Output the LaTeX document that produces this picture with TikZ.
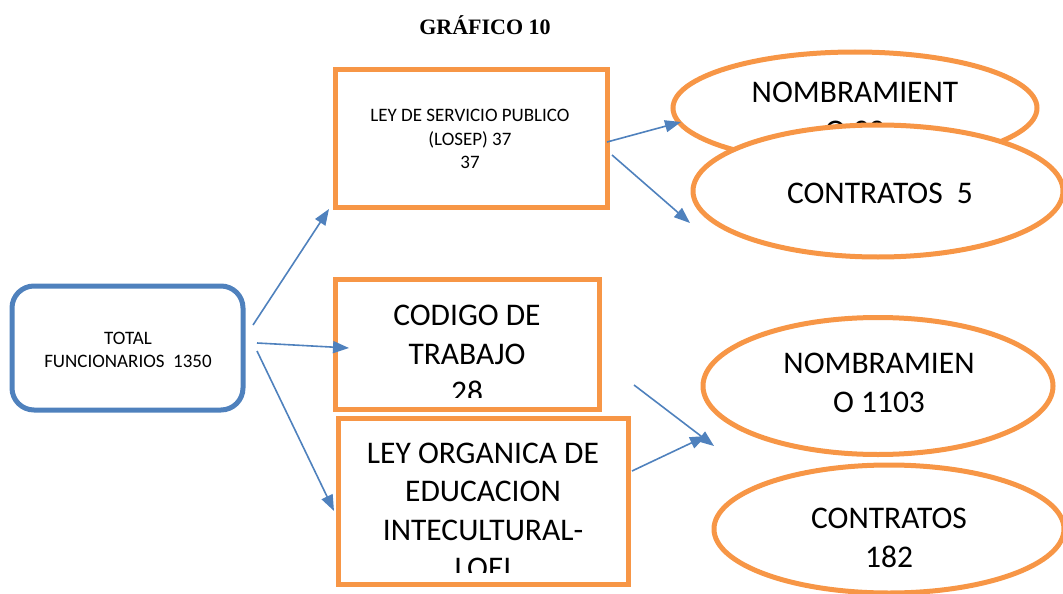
\documentclass[tikz,border=0pt]{standalone}
\usepackage{fontspec}
\setmainfont{Carlito}
\newfontfamily\titlefont{Liberation Serif}
\usetikzlibrary{arrows.meta,shapes.geometric}
\definecolor{obox}{HTML}{F79646}
\definecolor{bbox}{HTML}{4F81BD}
\tikzset{
  smalltxt/.style={font=\fontsize{19}{23.2}\selectfont, align=center},
  bigtxt/.style={font=\fontsize{31.5}{38.5}\selectfont, align=center},
  orect/.style={draw=obox, line width=5pt, fill=white},
  oell/.style={draw=obox, line width=5pt, fill=white, ellipse, inner sep=0pt},
  conn/.style={draw=bbox, line width=1.6pt, -{Triangle[length=16pt,width=12pt]}}
}
\begin{document}
\begin{tikzpicture}[x=1pt,y=-1pt]
\useasboundingbox (0,0) rectangle (1063,594);
% title
\node[font=\titlefont\bfseries\fontsize{22}{26}\selectfont] (title) at (485,25) {GRÁFICO 10};
% total
\draw[draw=bbox, line width=5pt, rounded corners=22pt] (12,286) rectangle (243,410);
\node[smalltxt] (total) at (128,350) {TOTAL\\FUNCIONARIOS\ \ 1350};
% LEY DE SERVICIO PUBLICO
\draw[orect] (335,70) rectangle (607,207);
\node[smalltxt] (losep) at (470,139) {LEY DE SERVICIO PUBLICO\\(LOSEP) 37\\37};
% CODIGO DE TRABAJO
\draw[orect] (335,279) rectangle (599,409);
\begin{scope}
\clip (338,282) rectangle (596,397);
\node[bigtxt] (codigo) at (467,354) {CODIGO DE\\TRABAJO\\28};
\end{scope}
% LOEI
\draw[orect] (338,418) rectangle (628,584);
\begin{scope}
\clip (341,421) rectangle (625,572);
\node[bigtxt] (loei) at (483,511) {LEY ORGANICA DE\\EDUCACION\\INTECULTURAL-\\LOEI};
\end{scope}
% ellipses
\node[oell, minimum width=364pt, minimum height=112pt] (e1) at (855,108) {};
\node[bigtxt] (e1t) at (855,112) {NOMBRAMIENT\\O 32};
\node[oell, minimum width=370pt, minimum height=132pt] (e2) at (878,191) {};
\node[bigtxt] (e2t) at (880,193) {CONTRATOS\ \ 5};
\node[oell, minimum width=350pt, minimum height=137pt] (e3) at (878,386) {};
\node[bigtxt] (e3t) at (879,383) {NOMBRAMIEN\\O 1103};
\node[oell, minimum width=350pt, minimum height=128pt] (e4) at (889,529) {};
\node[bigtxt] (e4t) at (889,538) {CONTRATOS\\182};
% connector endpoints
\coordinate (a1s) at (253,325); \coordinate (a1e) at (329,209);
\coordinate (a2s) at (257,343); \coordinate (a2e) at (349,348);
\coordinate (a3s) at (257,351); \coordinate (a3e) at (334,511);
\coordinate (b1s) at (607,142); \coordinate (b1e) at (681,122);
\coordinate (b2s) at (612,155); \coordinate (b2e) at (690,223);
\coordinate (c1s) at (634,385); \coordinate (c1e) at (714,446);
\coordinate (c2s) at (632,471); \coordinate (c2e) at (706,436);
\draw[conn] (a1s) -- (a1e);
\draw[conn] (a2s) -- (a2e);
\draw[conn] (a3s) -- (a3e);
\draw[conn] (b1s) -- (b1e);
\draw[conn] (b2s) -- (b2e);
\draw[conn] (c1s) -- (c1e);
\draw[conn] (c2s) -- (c2e);
\end{tikzpicture}
\end{document}
